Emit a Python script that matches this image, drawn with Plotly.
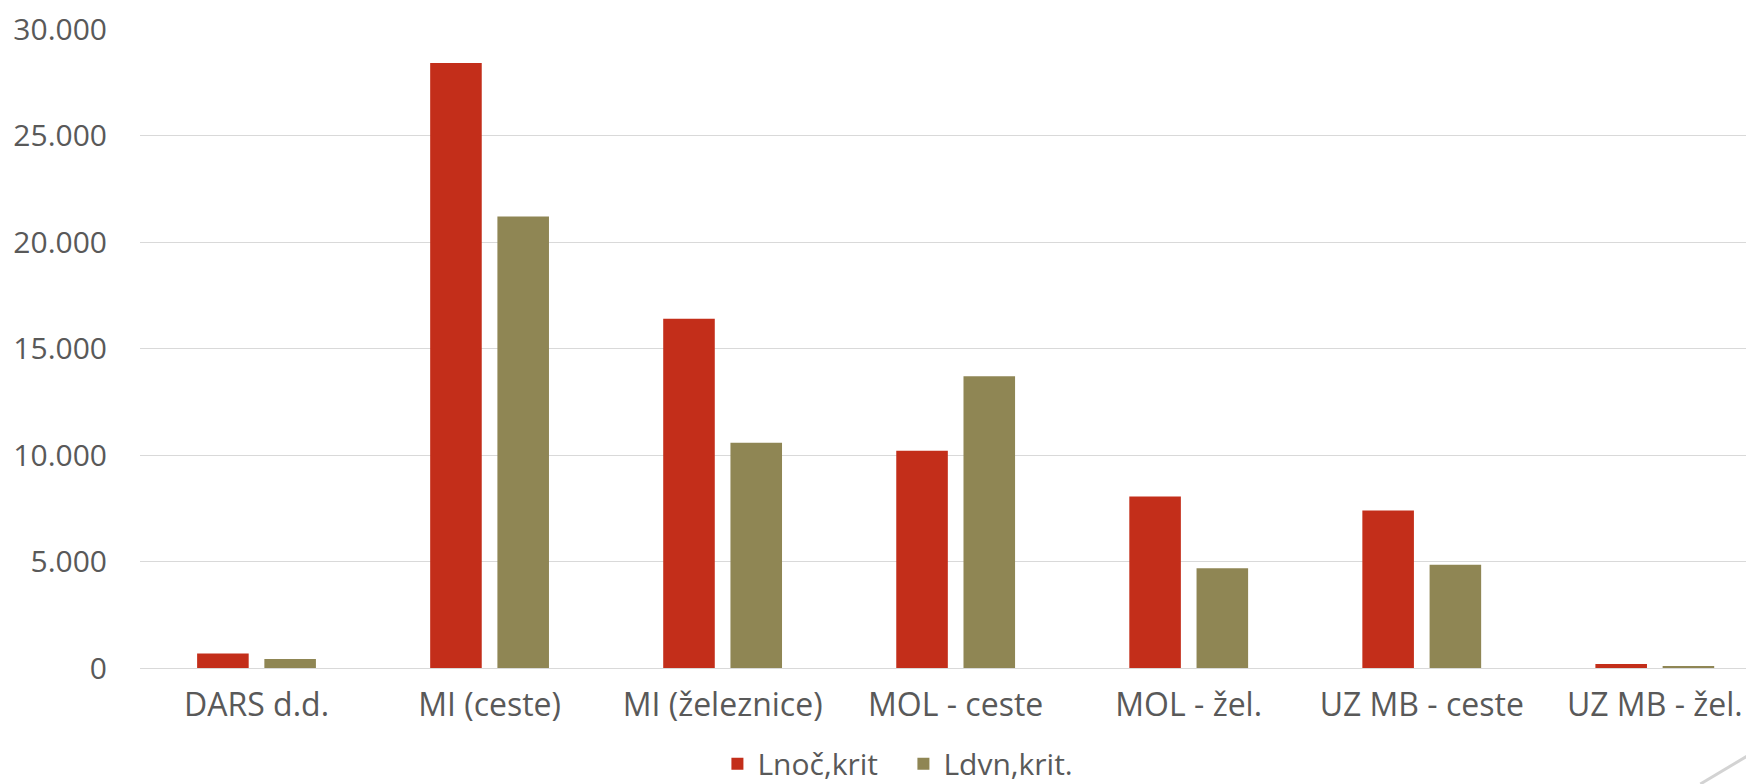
import plotly.graph_objects as go

categories = ["DARS d.d.", "MI (ceste)", "MI (železnice)", "MOL - ceste", "MOL - žel.", "UZ MB - ceste", "UZ MB - žel."]
lnoc_krit = [680, 28400, 16400, 10200, 8050, 7400, 190]
ldvn_krit = [420, 21200, 10570, 13700, 4680, 4850, 80]
series_names = ["Lnoč,krit", "Ldvn,krit."]

RED = "#C32E1A"
OLIVE = "#8F8654"
TXT = "#595959"
FONT = "Open Sans"

fig = go.Figure()
fig.add_trace(go.Bar(x=categories, y=lnoc_krit, name=series_names[0], marker_color=RED, marker_line_width=0))
fig.add_trace(go.Bar(x=categories, y=ldvn_krit, name=series_names[1], marker_color=OLIVE, marker_line_width=0))

fig.update_layout(
    width=1754, height=784,
    paper_bgcolor="white", plot_bgcolor="white",
    margin=dict(l=132, r=0, t=21, b=124, autoexpand=False),
    barmode="group", bargap=0.423, bargroupgap=0.233,
    separators=",.",
    font=dict(family=FONT, color=TXT, size=29),
    showlegend=True,
    legend=dict(orientation="h", xref="container", yref="container",
                x=0.5105, xanchor="center", y=0.036, yanchor="middle",
                font=dict(size=30, color=TXT), itemwidth=30, entrywidth=141, entrywidthmode="pixels",
                traceorder="normal"),
)
fig.update_xaxes(range=[-0.5, 6.46], showgrid=False, showline=False, ticks="", automargin=False,
                 tickfont=dict(size=32, color=TXT), ticklabelstandoff=15)
fig.update_yaxes(range=[0, 30000], dtick=5000, tickformat=",d", showgrid=True, gridcolor="#D9D9D9",
                 gridwidth=1, zeroline=True, zerolinecolor="#D9D9D9", zerolinewidth=1, automargin=False,
                 ticklabeloverflow="allow",
                 tickfont=dict(size=30, color=TXT), ticklabelstandoff=32)

# page-curl decoration in the bottom-right corner
fig.add_shape(type="line", xref="paper", yref="paper",
              x0=0.962, y0=-0.1815, x1=1.0, y1=-0.124,
              line=dict(color="#D3D3D3", width=3))

fig.write_html("out.html")
